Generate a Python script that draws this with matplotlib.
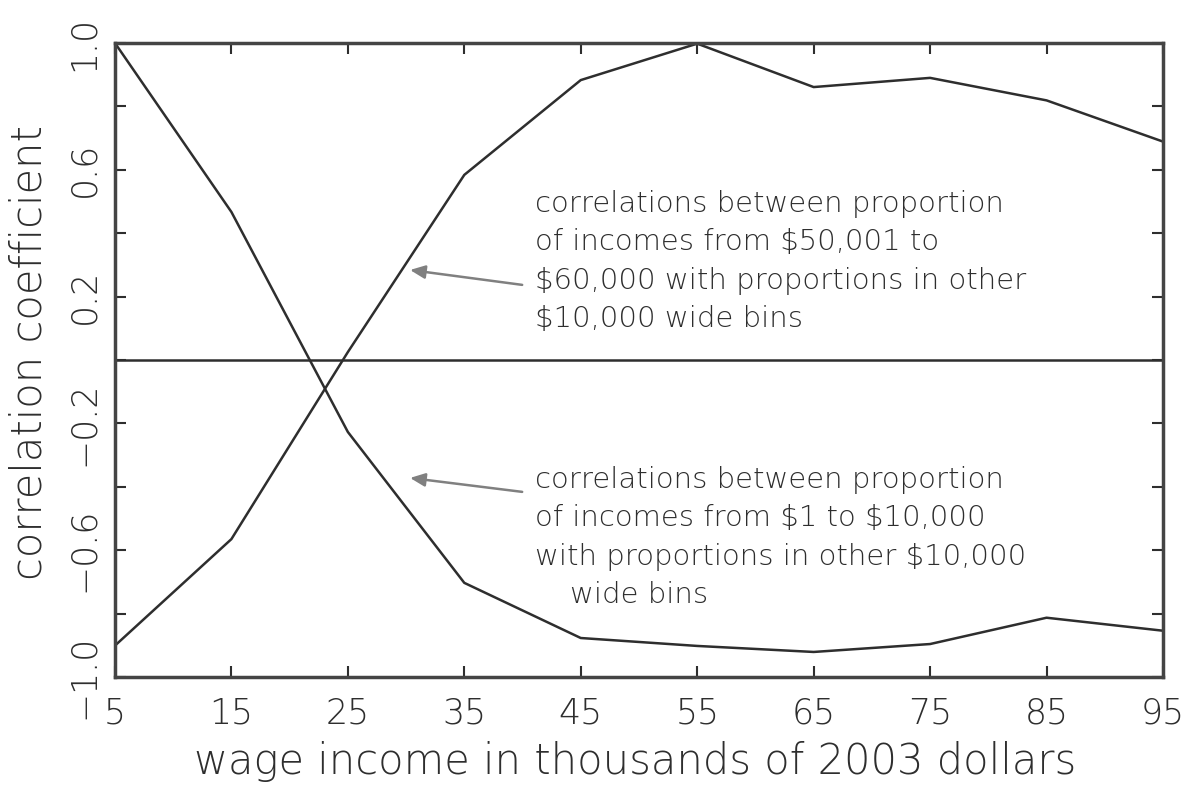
import matplotlib
matplotlib.use('Agg')
import matplotlib.pyplot as plt
from matplotlib import font_manager

# wage income bins (thousands of 2003 dollars)
income = [5, 15, 25, 35, 45, 55, 65, 75, 85, 95]
# correlations of the $1-$10,000 bin with the other bins
corr_low = [1.0, 0.467, -0.227, -0.703, -0.877, -0.902, -0.921, -0.896, -0.813, -0.854]
# correlations of the $50,001-$60,000 bin with the other bins
corr_mid = [-0.901, -0.565, 0.025, 0.584, 0.883, 0.998, 0.861, 0.890, 0.819, 0.689]

y_ticks = [-1.0, -0.8, -0.6, -0.4, -0.2, 0.0, 0.2, 0.4, 0.6, 0.8, 1.0]
y_labels = ['\u22121.0', '', '\u22120.6', '', '\u22120.2', '', '0.2', '', '0.6', '', '1.0']

note_mid = ['correlations between proportion',
            r'of incomes from \$50,001 to',
            r'\$60,000 with proportions in other',
            r'\$10,000 wide bins']
note_low = ['correlations between proportion',
            r'of incomes from \$1 to \$10,000',
            r'with proportions in other \$10,000',
            'wide bins']


def pick_font():
    # a thin face looks closest to the plotter font of the original
    for fam in ['DejaVu Sans', 'Open Sans', 'Lato', 'Roboto']:
        for f in font_manager.fontManager.ttflist:
            w = f.weight
            if isinstance(w, str):
                w = font_manager.weight_dict.get(w, 400)
            if f.name == fam and w <= 300:
                return fam, w
    return 'DejaVu Sans', 'normal'


fam, weight = pick_font()
plt.rcParams['font.family'] = [fam, 'DejaVu Sans']
plt.rcParams['font.weight'] = weight
plt.rcParams['axes.labelweight'] = weight

ink = '#2e2e2e'

fig = plt.figure(figsize=(11.9, 7.92), dpi=100)
ax = fig.add_axes([0.0966, 0.1452, 0.8807, 0.8005])

ax.plot(income, corr_low, color=ink, lw=1.8)
ax.plot(income, corr_mid, color=ink, lw=1.8)
ax.axhline(0, color=ink, lw=1.8)

ax.set_xlim(5, 95)
ax.set_ylim(-1, 1)

ax.set_xticks(income)
ax.set_xticklabels([str(v) for v in income])
ax.set_yticks(y_ticks)
ax.set_yticklabels(y_labels, rotation=90, va='center')

ax.tick_params(direction='in', length=8, width=1.5, color=ink,
               top=True, right=True, labelsize=25, labelcolor=ink)
ax.tick_params(axis='x', pad=14)
ax.tick_params(axis='y', pad=10)

for s in ax.spines.values():
    s.set_linewidth(2.5)
    s.set_color('#444444')

ax.set_xlabel('wage income in thousands of 2003 dollars', fontsize=30,
              color=ink, va='baseline', fontweight=weight)
ax.xaxis.set_label_coords(0.496, -0.153)
ax.set_ylabel('correlation coefficient', fontsize=30, color=ink,
              va='baseline', fontweight=weight)
ax.yaxis.set_label_coords(-0.070, 0.511)

# annotation text blocks, one line at a time
rows_mid = [0.7334, 0.6735, 0.6120, 0.5521]
rows_low = [0.2981, 0.2382, 0.1767, 0.1167]
for line, yy in zip(note_mid, rows_mid):
    ax.text(0.4008, yy, line, transform=ax.transAxes, fontsize=21,
            color=ink, va='baseline')
for i, (line, yy) in enumerate(zip(note_low, rows_low)):
    xx = 0.4342 if i == 3 else 0.4008
    ax.text(xx, yy, line, transform=ax.transAxes, fontsize=21,
            color=ink, va='baseline')

arrow = dict(arrowstyle='-|>,head_length=0.9,head_width=0.4',
             color='#808080', lw=1.8, shrinkA=0, shrinkB=0)
ax.annotate('', xy=(30.34, 0.284), xytext=(39.97, 0.237), arrowprops=arrow)
ax.annotate('', xy=(30.34, -0.372), xytext=(39.97, -0.416), arrowprops=arrow)

fig.savefig('out.png', dpi=100)
